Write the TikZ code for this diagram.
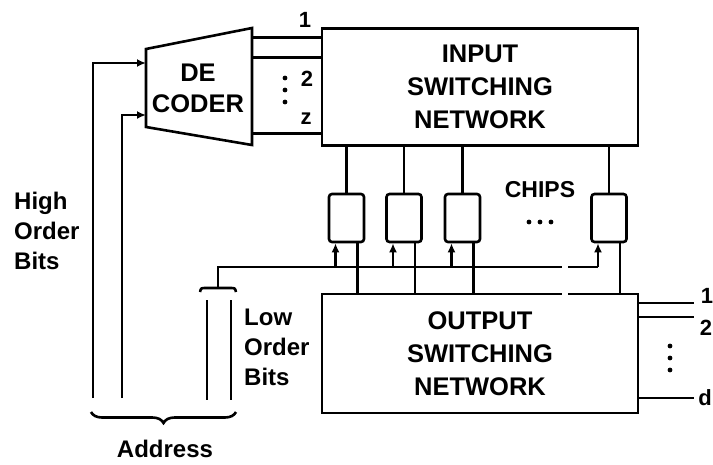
\documentclass[tikz,border=0pt]{standalone}
\usepackage{fontspec}
\setmainfont{Liberation Sans}
\usetikzlibrary{arrows.meta,positioning,calc,decorations.pathreplacing}
\tikzset{block/.style={draw,line width=2.6pt,font=\fontsize{25.5}{33}\selectfont\bfseries,align=center,minimum width=316pt,minimum height=117pt,inner sep=0pt},chipbox/.style={draw,line width=2.6pt,rounded corners=3pt,minimum width=35pt,minimum height=48pt,inner sep=0pt},wire/.style={line width=2.6pt},feed/.style={wire,-{Latex[length=9pt,width=8pt]}},lbl/.style={font=\fontsize{24}{30}\selectfont\bfseries,align=left,inner sep=0pt},num/.style={font=\fontsize{22}{22}\selectfont\bfseries,inner sep=0pt}}

\begin{document}
\begin{tikzpicture}[x=1pt,y=-1pt]
\useasboundingbox (0,0) rectangle (713,464);
% switching networks
\node[block] (insw) at (480,87) {INPUT\\SWITCHING\\NETWORK};
\node[block,minimum height=119pt] (outsw) at (480,353.5) {OUTPUT\\SWITCHING\\NETWORK};
% decoder
\coordinate (dtl) at (146,49);\coordinate (dbl) at (146,127);\coordinate (dtr) at (252,28);\coordinate (dbr) at (252,145);
\draw[wire] (dtl)--(dtr)--(dbr)--(dbl)--cycle;
\node[font=\fontsize{25.5}{31}\selectfont\bfseries,align=center,inner sep=0pt] (dec) at (198,88) {DE\\CODER};
\foreach \y in {37,57,133}{\coordinate (dy) at (0,\y);\draw[wire,line width=3pt] (dtr |- dy)--(insw.west |- dy);}
\node[num] (sel1) at (305,20) {1};\node[num] (sel2) at (307,79) {2};\node[num] (selz) at (306,119) {z};
\foreach \y in {78,90,102}\fill (285,\y) circle (2.4pt);
% high order bits
\coordinate (din1) at (146,63);\coordinate (din2) at (146,115);
\coordinate (hi1) at (93,398);\coordinate (hi2) at (122,398);
\draw[feed] (hi1)|-(din1);\draw[feed] (hi2)|-(din2);
\node[lbl,anchor=north west] (hilbl) at (14,192) {High\\Order\\Bits};
% chips
\foreach \x [count=\i] in {346.5,404,462.5,609}\node[chipbox] (chip\i) at (\x,218) {};
\node[font=\fontsize{23}{23}\selectfont\bfseries,inner sep=0pt] (chipslbl) at (540,190) {CHIPS};
\foreach \x in {529,540,551}\fill (\x,222) circle (2.4pt);
\coordinate (bus) at (218,267);\coordinate (lowtop) at (218,288);
\draw[wire] (lowtop)--(bus)--(598,267);
\foreach \i in {1,...,4}{
\coordinate (ci\i) at ([xshift=-11pt]chip\i.south);\coordinate (co\i) at ([xshift=11pt]chip\i.south);
\draw[wire] (chip\i.north)--(chip\i.north |- insw.south);
\draw[feed] (ci\i |- bus)--(ci\i);
\draw[wire] (co\i)--(co\i |- outsw.north);}
\draw[white,line width=4pt] (562,267)--(568,267) (562,294.5)--(568,294.5);
% low order bits
\draw[wire] (200,292) .. controls (201,288) .. (206,288)--(230,288) .. controls (235,288) .. (236,292);
\coordinate (lo1) at (207,300);\coordinate (lo2) at (231,300);
\draw[wire] (lo1)--++(0,100) (lo2)--++(0,100);
\node[lbl,anchor=north west] (lolbl) at (244,309) {Low\\Order\\Bits};
% address
\draw[wire,decorate,decoration={brace,amplitude=11pt}] (236,412)--(91,412);
\node[lbl] (addr) at (165,449) {Address};
% outputs
\foreach \y in {303,317,398}{\coordinate (dy) at (0,\y);\draw[wire] (outsw.east |- dy)--++(55,0);}
\node[num] (out1) at (707,296) {1};\node[num] (out2) at (706,328) {2};\node[num] (outd) at (705,398) {d};
\foreach \y in {346,358,370}\fill (670,\y) circle (2.4pt);
\end{tikzpicture}
\end{document}
